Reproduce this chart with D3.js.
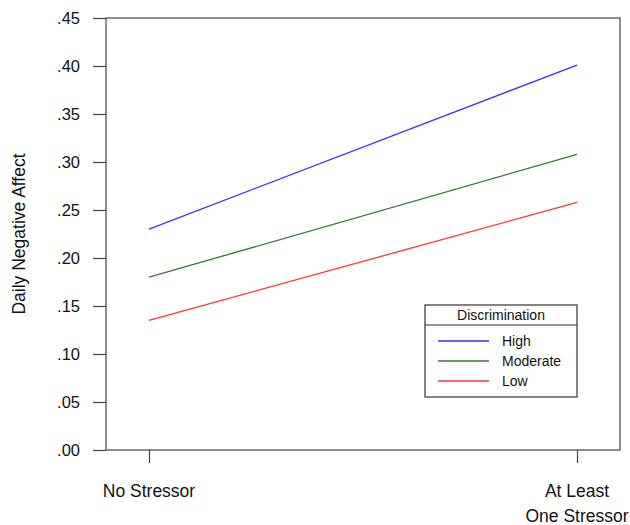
<!DOCTYPE html>
<html>
<head>
<meta charset="utf-8">
<script src="https://cdn.jsdelivr.net/npm/d3@7"></script>
<style>
  body { margin: 0; background: #fff; }
  text { font-family: "Liberation Sans", Arial, sans-serif; fill: #111; }
</style>
</head>
<body>
<script>
// Simple slopes: daily negative affect by stressor and discrimination level.
var conditions = ['No Stressor', 'At Least One Stressor'],
    seriesNames = ['High', 'Moderate', 'Low'],
    seriesColors = ['#3333ff', '#2e7d2e', '#ff3333'],
    highValues = [0.23, 0.401],
    moderateValues = [0.18, 0.308],
    lowValues = [0.135, 0.258],
    yTicks = [0, 0.05, 0.10, 0.15, 0.20, 0.25, 0.30, 0.35, 0.40, 0.45];

var allValues = [highValues, moderateValues, lowValues];

var width = 630, height = 525,
    plot = { left: 106, right: 620, top: 18, bottom: 450 };

var svg = d3.select('body').append('svg')
  .attr('width', width)
  .attr('height', height);

var x = d3.scalePoint()
  .domain(conditions)
  .range([149, 577]);

var y = d3.scaleLinear()
  .domain([0, 0.45])
  .range([plot.bottom, plot.top]);

// Frame around the plot area.
svg.append('rect')
  .attr('x', plot.left)
  .attr('y', plot.top)
  .attr('width', plot.right - plot.left)
  .attr('height', plot.bottom - plot.top)
  .attr('fill', 'none')
  .attr('stroke', '#444')
  .attr('stroke-width', 1.2);

// Y axis: labels like ".45".
var yAxis = d3.axisLeft(y)
  .tickValues(yTicks)
  .tickSize(13)
  .tickPadding(13)
  .tickFormat(function (d) { return d3.format('.2f')(d).replace(/^0/, ''); });

var yg = svg.append('g')
  .attr('transform', 'translate(' + plot.left + ',0)')
  .call(yAxis);
yg.select('.domain').remove();
yg.selectAll('line').attr('stroke', '#444').attr('stroke-width', 1.2);
yg.selectAll('text')
  .style('font-size', '16.5px')
  .style('font-family', '"Liberation Sans", Arial, sans-serif')
  .attr('fill', '#111');

// X axis ticks, labels drawn separately so they can wrap.
var xAxis = d3.axisBottom(x)
  .tickSize(13)
  .tickFormat('');
var xg = svg.append('g')
  .attr('transform', 'translate(0,' + plot.bottom + ')')
  .call(xAxis);
xg.select('.domain').remove();
xg.selectAll('line').attr('stroke', '#444').attr('stroke-width', 1.2);

var xLabels = [['No Stressor'], ['At Least', 'One Stressor']];
conditions.forEach(function (c, i) {
  xLabels[i].forEach(function (line, j) {
    svg.append('text')
      .attr('x', x(c))
      .attr('y', 497 + j * 25)
      .attr('text-anchor', 'middle')
      .style('font-size', '17.5px')
      .text(line);
  });
});

// Y axis title.
svg.append('text')
  .attr('transform', 'translate(25,' + 234 + ') rotate(-90)')
  .attr('text-anchor', 'middle')
  .style('font-size', '17.5px')
  .text('Daily Negative Affect');

// The three lines.
var line = d3.line()
  .x(function (d, i) { return x(conditions[i]); })
  .y(function (d) { return y(d); });

allValues.forEach(function (vals, i) {
  svg.append('path')
    .datum(vals)
    .attr('d', line)
    .attr('fill', 'none')
    .attr('stroke', seriesColors[i])
    .attr('stroke-width', 1.3);
});

// Legend box.
var legend = svg.append('g').attr('transform', 'translate(425,305)');
legend.append('rect')
  .attr('width', 152)
  .attr('height', 92)
  .attr('fill', '#fff')
  .attr('stroke', '#333')
  .attr('stroke-width', 1.2);
legend.append('line')
  .attr('x1', 0).attr('x2', 152)
  .attr('y1', 20).attr('y2', 20)
  .attr('stroke', '#333')
  .attr('stroke-width', 1.2);
legend.append('text')
  .attr('x', 76)
  .attr('y', 15)
  .attr('text-anchor', 'middle')
  .style('font-size', '14px')
  .text('Discrimination');

seriesNames.forEach(function (name, i) {
  var ly = 36 + i * 20;
  legend.append('line')
    .attr('x1', 13).attr('x2', 64)
    .attr('y1', ly).attr('y2', ly)
    .attr('stroke', seriesColors[i])
    .attr('stroke-width', 1.3);
  legend.append('text')
    .attr('x', 77)
    .attr('y', ly + 5)
    .style('font-size', '14px')
    .text(name);
});
</script>
</body>
</html>
